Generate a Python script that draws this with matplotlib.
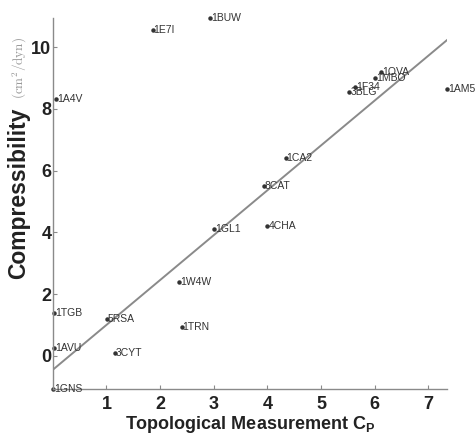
import matplotlib
matplotlib.use("Agg")
import matplotlib.pyplot as plt

plt.rcParams['font.family'] = ['Liberation Sans', 'DejaVu Sans']
plt.rcParams['mathtext.fontset'] = 'custom'
plt.rcParams['mathtext.rm'] = 'Liberation Sans:bold'
plt.rcParams['mathtext.bf'] = 'Liberation Sans:bold'
plt.rcParams['mathtext.it'] = 'Liberation Sans:bold'

# proteins: topological measurement Cp vs compressibility
labels = ["1BUW", "1E7I", "1A4V", "1OVA", "1MBO", "1F34", "3BLG", "1AM5",
          "1CA2", "8CAT", "1GL1", "4CHA", "1W4W", "1TGB", "5RSA", "1TRN",
          "1AVU", "3CYT", "1GNS"]
cp = [2.93, 1.86, 0.06, 6.12, 6.01, 5.64, 5.53, 7.35,
      4.34, 3.93, 3.00, 4.00, 2.35, 0.03, 1.01, 2.40,
      0.03, 1.16, 0.00]
comp = [10.95, 10.55, 8.32, 9.19, 9.00, 8.70, 8.54, 8.64,
        6.41, 5.50, 4.11, 4.20, 2.39, 1.39, 1.20, 0.94,
        0.26, 0.10, -1.07]

# fitted regression line endpoints
fit_x = [0.0, 7.35]
fit_y = [-0.45, 10.23]

fig = plt.figure(figsize=(4.76, 4.36), dpi=100)
ax = fig.add_axes([0.111, 0.108, 0.828, 0.851])

ax.plot(fit_x, fit_y, color="#8a8a8a", lw=1.4, zorder=1)
ax.plot(cp, comp, "o", ms=2.2, color="#333333", zorder=2, clip_on=False)
for lab, x, y in zip(labels, cp, comp):
    ax.text(x + 0.02, y, lab, fontsize=7.5, color="#333333", va="center", ha="left")

ax.set_xlim(0, 7.35)
ax.set_ylim(-1.07, 10.95)
ax.set_xticks([1, 2, 3, 4, 5, 6, 7])
ax.set_yticks([0, 2, 4, 6, 8, 10])

for s in ["top", "right"]:
    ax.spines[s].set_visible(False)
for s in ["left", "bottom"]:
    ax.spines[s].set_color("#8a8a8a")
    ax.spines[s].set_linewidth(1.0)

ax.tick_params(direction="in", length=3, color="#8a8a8a", labelsize=13)
ax.tick_params(axis="x", pad=5)
ax.tick_params(axis="y", pad=1)
for t in ax.get_xticklabels() + ax.get_yticklabels():
    t.set_fontweight("bold")
    t.set_color("#222222")

ax.set_xlabel(r"Topological Measurement C$_\mathrm{P}$", fontsize=13,
              fontweight="bold", color="#222222", labelpad=1)

ax.text(-0.087, 0.528, "Compressibility", transform=ax.transAxes, rotation=90,
        fontsize=16.5, fontweight="bold", color="#222222", ha="center", va="center")
ax.text(-0.084, 0.865, r"$(\mathrm{cm}^2/\mathrm{dyn})$", transform=ax.transAxes,
        rotation=90, fontsize=9.5, color="#9a9a9a", ha="center", va="center",
        math_fontfamily="cm")

fig.savefig("out.png", dpi=100)
